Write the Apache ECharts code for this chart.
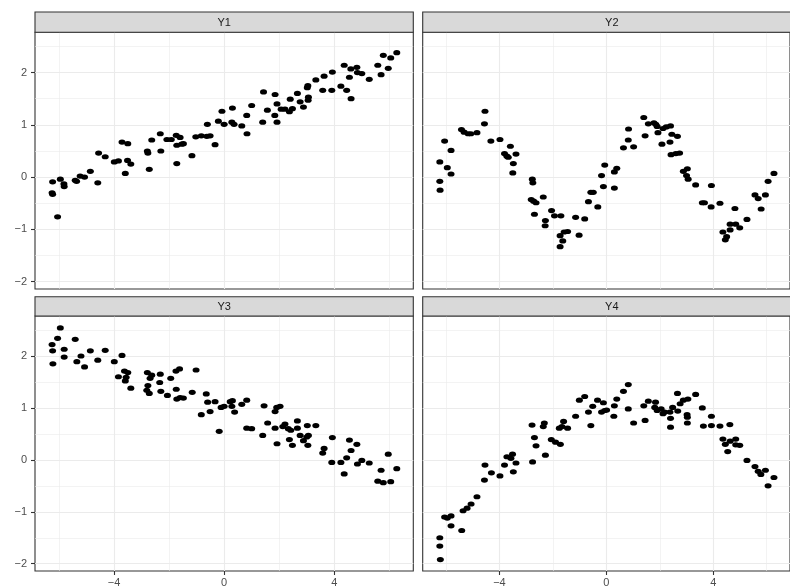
<!DOCTYPE html>
<html><head><meta charset="utf-8">
<script src="https://cdn.jsdelivr.net/npm/echarts@6/dist/echarts.min.js"></script>
<style>html,body{margin:0;padding:0;background:#fff;overflow:hidden}#c{width:790px;height:588px}</style>
</head><body><div id="c"></div>
<script>
const panelNames = ['Y1', 'Y2', 'Y3', 'Y4'];
const xMajorTicks = [-4, 0, 4];
const xMinorTicks = [-6, -2, 2, 6];
const yMajorTicks = [-2, -1, 0, 1, 2];
const yMinorTicks = [-1.5, -0.5, 0.5, 1.5, 2.5];

const y1Points = [[-6.23,-0.09],[-6.25,-0.30],[-6.23,-0.33],[-6.05,-0.76],[-5.95,-0.04],[-5.82,-0.13],[-5.81,-0.18],[-5.41,-0.06],[-5.36,-0.08],[-5.23,0.02],[-5.07,0.00],[-4.86,0.11],[-4.59,-0.11],[-4.56,0.46],[-4.32,0.39],[-3.99,0.29],[-3.84,0.31],[-3.71,0.67],[-3.59,0.07],[-3.51,0.32],[-3.50,0.64],[-3.39,0.25],[-2.79,0.50],[-2.77,0.46],[-2.72,0.15],[-2.63,0.71],[-2.32,0.83],[-2.30,0.50],[-2.08,0.72],[-1.92,0.72],[-1.74,0.80],[-1.72,0.26],[-1.72,0.61],[-1.60,0.76],[-1.54,0.63],[-1.48,0.64],[-1.17,0.41],[-1.03,0.77],[-0.83,0.79],[-0.61,1.01],[-0.63,0.78],[-0.51,0.79],[-0.33,0.62],[-0.21,1.07],[-0.08,1.26],[0.00,1.01],[0.30,1.32],[0.28,1.05],[0.36,1.01],[0.64,0.98],[0.82,1.18],[0.83,0.83],[1.00,1.37],[1.43,1.63],[1.40,1.05],[1.57,1.28],[1.84,1.18],[1.85,1.58],[1.92,1.40],[1.92,1.05],[2.07,1.30],[2.21,1.30],[2.40,1.49],[2.37,1.25],[2.48,1.31],[2.66,1.60],[2.76,1.44],[2.88,1.34],[3.02,1.71],[3.04,1.75],[3.06,1.53],[3.05,1.47],[3.33,1.86],[3.58,1.66],[3.63,1.93],[3.91,1.66],[3.93,2.01],[4.24,1.74],[4.36,2.14],[4.45,1.66],[4.55,1.91],[4.60,2.07],[4.61,1.50],[4.82,2.10],[4.84,2.00],[5.00,1.98],[5.27,1.87],[5.58,2.14],[5.70,1.96],[5.78,2.33],[5.96,2.08],[6.05,2.28],[6.27,2.38]];

const y2Points = [[-6.23,0.29],[-6.23,-0.08],[-6.22,-0.25],[-6.05,0.69],[-5.95,0.18],[-5.81,0.51],[-5.81,0.06],[-5.42,0.91],[-5.32,0.86],[-5.17,0.83],[-5.07,0.83],[-4.84,0.85],[-4.54,1.26],[-4.56,1.02],[-4.32,0.69],[-3.98,0.72],[-3.59,0.59],[-3.81,0.45],[-3.72,0.40],[-3.67,0.38],[-3.38,0.44],[-3.48,0.26],[-3.50,0.08],[-2.77,-0.04],[-2.75,-0.11],[-2.81,-0.43],[-2.72,-0.46],[-2.63,-0.49],[-2.36,-0.38],[-2.69,-0.71],[-2.28,-0.83],[-2.29,-0.93],[-2.05,-0.64],[-1.94,-0.74],[-1.70,-0.74],[-1.15,-0.77],[-0.81,-0.80],[-1.02,-1.11],[-1.45,-1.04],[-1.58,-1.05],[-1.73,-1.12],[-1.63,-1.22],[-1.73,-1.33],[-0.67,-0.47],[-0.58,-0.29],[-0.49,-0.29],[-0.32,-0.57],[-0.18,0.03],[-0.11,-0.18],[-0.06,0.23],[0.30,-0.21],[0.30,0.10],[0.39,0.17],[0.64,0.56],[0.82,0.71],[0.83,0.92],[1.02,0.58],[1.40,1.14],[1.45,0.79],[1.57,1.02],[1.78,1.04],[1.85,1.01],[1.90,0.97],[1.93,0.85],[2.08,0.63],[2.12,0.93],[2.24,0.96],[2.40,0.98],[2.38,0.67],[2.45,0.82],[2.66,0.78],[2.42,0.43],[2.60,0.45],[2.74,0.46],[2.88,0.11],[3.03,0.16],[3.00,0.03],[3.06,-0.04],[3.34,-0.15],[3.59,-0.49],[3.67,-0.49],[3.93,-0.16],[3.92,-0.57],[4.25,-0.50],[4.36,-1.05],[4.45,-1.20],[4.50,-1.14],[4.63,-1.01],[4.63,-0.90],[4.81,-0.60],[4.84,-0.90],[4.99,-0.97],[5.26,-0.81],[5.56,-0.34],[5.68,-0.41],[5.79,-0.61],[5.95,-0.34],[6.05,-0.08],[6.27,0.07]];

const y3Points = [[-6.25,2.22],[-6.23,2.10],[-6.22,1.85],[-6.05,2.34],[-5.95,2.54],[-5.81,2.13],[-5.81,1.98],[-5.41,2.32],[-5.35,1.89],[-5.20,2.00],[-5.07,1.79],[-4.86,2.10],[-4.59,1.92],[-4.32,2.11],[-3.99,1.89],[-3.84,1.60],[-3.71,2.01],[-3.62,1.71],[-3.56,1.59],[-3.59,1.52],[-3.50,1.68],[-3.39,1.38],[-2.79,1.68],[-2.77,1.43],[-2.81,1.34],[-2.72,1.28],[-2.69,1.57],[-2.63,1.63],[-2.32,1.65],[-2.34,1.49],[-2.30,1.32],[-2.06,1.24],[-1.94,1.57],[-1.75,1.71],[-1.62,1.75],[-1.74,1.36],[-1.72,1.17],[-1.60,1.20],[-1.48,1.19],[-1.16,1.30],[-1.02,1.73],[-0.83,0.87],[-0.65,1.27],[-0.60,1.11],[-0.51,0.93],[-0.33,1.12],[-0.18,0.55],[-0.11,1.01],[0.00,1.03],[0.22,1.12],[0.28,1.03],[0.30,1.14],[0.38,0.92],[0.64,1.07],[0.82,1.15],[0.82,0.61],[1.00,0.60],[1.40,0.47],[1.45,1.04],[1.58,0.71],[1.85,0.93],[1.91,1.01],[2.03,1.03],[1.85,0.61],[1.92,0.31],[2.13,0.64],[2.21,0.69],[2.33,0.60],[2.42,0.57],[2.37,0.39],[2.48,0.28],[2.66,0.75],[2.66,0.61],[2.76,0.47],[2.88,0.37],[3.02,0.66],[3.06,0.47],[3.00,0.44],[3.04,0.28],[3.33,0.66],[3.58,0.13],[3.63,0.22],[3.91,-0.05],[3.93,0.43],[4.24,-0.05],[4.36,-0.27],[4.45,0.04],[4.55,0.38],[4.61,0.18],[4.82,0.30],[4.84,-0.08],[5.00,-0.01],[5.27,-0.06],[5.58,-0.41],[5.70,-0.20],[5.78,-0.44],[5.96,0.11],[6.05,-0.42],[6.27,-0.17]];

const y4Points = [[-6.21,-1.92],[-6.23,-1.66],[-6.23,-1.50],[-6.05,-1.10],[-5.95,-1.12],[-5.81,-1.08],[-5.81,-1.27],[-5.41,-1.36],[-5.36,-0.98],[-5.21,-0.93],[-5.06,-0.85],[-4.84,-0.71],[-4.56,-0.39],[-4.54,-0.10],[-4.30,-0.25],[-3.98,-0.31],[-3.81,-0.10],[-3.72,0.06],[-3.57,0.03],[-3.51,0.11],[-3.48,-0.23],[-3.38,-0.06],[-2.78,0.67],[-2.76,-0.04],[-2.69,0.43],[-2.63,0.27],[-2.36,0.64],[-2.32,0.71],[-2.28,0.09],[-2.06,0.39],[-1.90,0.34],[-1.72,0.30],[-1.76,0.61],[-1.66,0.64],[-1.45,0.61],[-1.60,0.74],[-1.15,0.84],[-1.01,1.15],[-0.81,1.22],[-0.67,0.92],[-0.58,0.66],[-0.51,1.03],[-0.33,1.15],[-0.18,0.92],[-0.11,1.10],[-0.06,0.95],[0.01,0.96],[0.28,0.84],[0.30,1.04],[0.39,1.17],[0.64,1.32],[0.82,1.45],[0.82,0.98],[1.02,0.71],[1.40,1.04],[1.45,0.76],[1.57,1.13],[1.84,1.11],[1.81,1.01],[1.90,0.95],[2.05,0.98],[2.12,0.89],[2.18,0.92],[2.38,0.92],[2.40,0.80],[2.40,0.63],[2.48,1.01],[2.66,1.28],[2.67,0.94],[2.76,1.08],[2.88,1.15],[3.05,1.17],[3.02,0.87],[3.03,0.82],[3.03,0.71],[3.34,1.26],[3.59,1.00],[3.63,0.65],[3.93,0.84],[3.93,0.66],[4.25,0.65],[4.36,0.40],[4.45,0.30],[4.54,0.16],[4.62,0.68],[4.63,0.36],[4.84,0.40],[4.84,0.29],[4.99,0.28],[5.26,-0.01],[5.56,-0.13],[5.68,-0.22],[5.78,-0.28],[5.95,-0.20],[6.05,-0.50],[6.27,-0.34]];

const panelData = [y1Points, y2Points, y3Points, y4Points];

// layout (pixels)
const colLeft = [35, 422.7];
const panelW = 378.3;
const rowTop = [32.3, 316];
const panelH = [256.7, 257.3];
const stripTop = [12, 296.7];
const xRange = [-6.87, 6.87];
const yRange = [-2.14, 2.77];

const fmt = v => (v < 0 ? '\u2212' + Math.abs(v) : String(v));
const FONT = 'Liberation Sans, Arial, Helvetica, sans-serif';

const grids = [], xAxes = [], yAxes = [], series = [], graphics = [];
for (let i = 0; i < 4; i++) {
  const col = i % 2, row = Math.floor(i / 2);
  grids.push({ left: colLeft[col], top: rowTop[row], width: panelW, height: panelH[row],
    show: true, borderColor: '#333333', borderWidth: 1.1, backgroundColor: '#ffffff', containLabel: false });
  const showX = row === 1, showY = col === 0;
  // major axes
  xAxes.push({ type: 'value', gridIndex: i, min: xRange[0], max: xRange[1], position: 'bottom',
    axisLine: { show: false, onZero: false },
    axisTick: { show: showX, length: 4, lineStyle: { color: '#333333', width: 1.1 }, customValues: xMajorTicks },
    axisLabel: { show: showX, margin: 6, color: '#4D4D4D', fontSize: 11, fontFamily: FONT, formatter: fmt, customValues: xMajorTicks },
    splitLine: { show: true, lineStyle: { color: '#EBEBEB', width: 1.1 } } });
  yAxes.push({ type: 'value', gridIndex: i, min: yRange[0], max: yRange[1], position: 'left',
    axisLine: { show: false, onZero: false },
    axisTick: { show: showY, length: 4, lineStyle: { color: '#333333', width: 1.1 }, customValues: yMajorTicks },
    axisLabel: { show: showY, margin: 8, color: '#4D4D4D', fontSize: 11, fontFamily: FONT, formatter: fmt, customValues: yMajorTicks },
    splitLine: { show: true, lineStyle: { color: '#EBEBEB', width: 1.1 } } });
  // minor grid axes
  xAxes.push({ type: 'value', gridIndex: i, min: xRange[0], max: xRange[1], position: 'bottom',
    axisLine: { show: false, onZero: false }, axisLabel: { show: false },
    axisTick: { show: false, customValues: xMinorTicks },
    splitLine: { show: true, lineStyle: { color: '#EBEBEB', width: 0.6 } } });
  yAxes.push({ type: 'value', gridIndex: i, min: yRange[0], max: yRange[1], position: 'left',
    axisLine: { show: false, onZero: false }, axisLabel: { show: false },
    axisTick: { show: false, customValues: yMinorTicks },
    splitLine: { show: true, lineStyle: { color: '#EBEBEB', width: 0.6 } } });
  series.push({ type: 'scatter', xAxisIndex: 2 * i, yAxisIndex: 2 * i, data: panelData[i],
    symbol: 'circle', symbolSize: [7, 5.2], itemStyle: { color: '#000000', opacity: 1 }, silent: true, z: 5 });
  // strip
  graphics.push({ type: 'rect', shape: { x: colLeft[col], y: stripTop[row], width: panelW, height: rowTop[row] - stripTop[row] },
    style: { fill: '#D9D9D9', stroke: '#333333', lineWidth: 1.1 }, z: 10 });
  graphics.push({ type: 'text', x: colLeft[col] + panelW / 2, y: (stripTop[row] + rowTop[row]) / 2 + 0.5,
    style: { text: panelNames[i], fill: '#1A1A1A', font: '11px ' + FONT, textAlign: 'center', textVerticalAlign: 'middle' }, z: 11 });
}

const chart = echarts.init(document.getElementById('c'), null, { renderer: 'canvas' });
chart.setOption({
  animation: false,
  backgroundColor: '#ffffff',
  grid: grids, xAxis: xAxes, yAxis: yAxes, series: series, graphic: graphics
});
</script></body></html>
